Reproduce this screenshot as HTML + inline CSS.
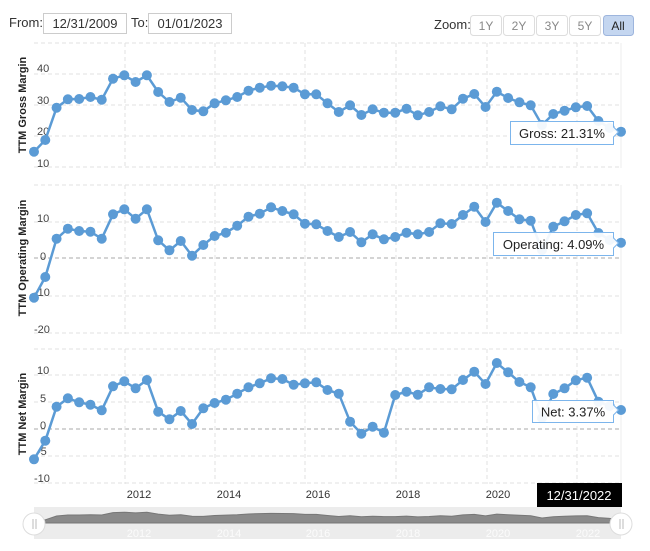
<!DOCTYPE html>
<html><head><meta charset="utf-8"><style>
body{margin:0;background:#fff;font-family:"Liberation Sans",sans-serif;}
svg{display:block}
</style></head><body>
<svg id="s" width="650" height="551" viewBox="0 0 650 551" xmlns="http://www.w3.org/2000/svg" font-family="Liberation Sans, sans-serif">
<rect width="650" height="551" fill="#fff"/>
<text x="9" y="27" font-size="13" fill="#333">From:</text>
<rect x="43.5" y="13.5" width="83" height="20" fill="#fff" stroke="#ccc"/>
<text x="85" y="28" font-size="13" fill="#333" text-anchor="middle">12/31/2009</text>
<text x="131" y="27" font-size="13" fill="#333">To:</text>
<rect x="148.5" y="13.5" width="83" height="20" fill="#fff" stroke="#ccc"/>
<text x="190" y="28" font-size="13" fill="#333" text-anchor="middle">01/01/2023</text>
<text x="434" y="29" font-size="13" fill="#333">Zoom:</text>
<g font-size="12" fill="#888" text-anchor="middle">
<rect x="470.5" y="15.5" width="31" height="20" rx="3" fill="#fff" stroke="#ddd"/><text x="486" y="30">1Y</text>
<rect x="503.5" y="15.5" width="31" height="20" rx="3" fill="#fff" stroke="#ddd"/><text x="519" y="30">2Y</text>
<rect x="536.5" y="15.5" width="31" height="20" rx="3" fill="#fff" stroke="#ddd"/><text x="552" y="30">3Y</text>
<rect x="569.5" y="15.5" width="31" height="20" rx="3" fill="#fff" stroke="#ddd"/><text x="585" y="30">5Y</text>
<rect x="603.5" y="15.5" width="30" height="20" rx="3" fill="#c4d6f0" stroke="#9db5dd"/><text x="618" y="30" fill="#222">All</text>
</g>
<g id="grid" stroke="#e0e0e0" stroke-dasharray="4,3" stroke-width="1"></g>
<g font-size="11" fill="#444">
<text x="37" y="72">40</text><text x="37" y="104">30</text><text x="37" y="135">20</text><text x="37" y="167">10</text>
<text x="37" y="222">10</text><text x="40" y="260">0</text><text x="34" y="296">-10</text><text x="34" y="333">-20</text>
<text x="37" y="374">10</text><text x="40" y="402">5</text><text x="40" y="429">0</text><text x="37" y="455">-5</text><text x="34" y="482">-10</text>
</g>
<g font-size="11" font-weight="bold" fill="#222" text-anchor="middle">
<text transform="translate(26,105) rotate(-90)">TTM Gross Margin</text>
<text transform="translate(26,258) rotate(-90)">TTM Operating Margin</text>
<text transform="translate(26,414) rotate(-90)">TTM Net Margin</text>
</g>
<g id="series"></g>
<g font-size="11" fill="#333" text-anchor="middle">
<text x="139" y="498">2012</text><text x="229" y="498">2014</text><text x="318" y="498">2016</text><text x="408" y="498">2018</text><text x="498" y="498">2020</text>
</g>
<rect x="537" y="483" width="85" height="24" fill="#000"/>
<text x="579" y="500" font-size="13" fill="#fff" text-anchor="middle">12/31/2022</text>
<rect x="34" y="507" width="587" height="32" fill="#ececec"/>
<path id="nav" fill="#8a8a8a" stroke="#777"/>
<g font-size="11" fill="#fff" text-anchor="middle" opacity="0.8">
<text x="139" y="537">2012</text><text x="229" y="537">2014</text><text x="318" y="537">2016</text><text x="408" y="537">2018</text><text x="498" y="537">2020</text><text x="588" y="537">2022</text>
</g>
<circle cx="34" cy="524" r="11" fill="#fff" stroke="#ddd"/><line x1="33" y1="519" x2="33" y2="529" stroke="#bbb"/><line x1="36" y1="519" x2="36" y2="529" stroke="#bbb"/>
<circle cx="621" cy="524" r="11" fill="#fff" stroke="#ddd"/><line x1="620" y1="519" x2="620" y2="529" stroke="#bbb"/><line x1="623" y1="519" x2="623" y2="529" stroke="#bbb"/>
<g id="tips"></g>
</svg>
<script>
var NS="http://www.w3.org/2000/svg";
function el(p,t,a){var e=document.createElementNS(NS,t);for(var k in a)e.setAttribute(k,a[k]);p.appendChild(e);return e;}
var g=document.getElementById('grid');
[[43,74,105,136,167],[185,222,296,333],[349,375,402,456,483]].forEach(function(r){r.forEach(function(y){el(g,'line',{x1:34,x2:621,y1:y,y2:y});});});
[[258],[429]].forEach(function(r){el(g,'line',{x1:34,x2:621,y1:r[0],y2:r[0],stroke:'#aaa'});});
[125,215,305,396,487,577].forEach(function(x){[[43,168],[185,334],[349,484]].forEach(function(s){el(g,'line',{x1:x,x2:x,y1:s[0],y2:s[1]});});});
[[43,168],[185,334],[349,484]].forEach(function(s){el(g,'line',{x1:621,x2:621,y1:s[0],y2:s[1],'stroke-dasharray':'none',stroke:'#eee'});});
var G=[151.7,140,107.7,99.3,99,97,99.7,78.7,75.3,82,75.3,92,102,97.7,110,111.3,103.3,100.3,97,90.7,87.7,85.7,86.3,87.7,94.3,94.3,103.3,
112,105.3,115,109.3,112.7,112.7,108.7,115.3,112,106.3,109.3,98.7,94,107,91.7,98,102.3,105.3,125,114,110.7,107.3,106,121,128,131.7];
var O=[297.7,277,238.7,228.7,231,231.7,238.7,214.3,209.3,218.7,209.3,240.3,250.3,241,255.7,245,236,232.7,225.7,216.7,213.7,207.3,211,214.3,223.7,224.3,231,
237,232,242.3,234.3,239.3,237,232.7,234.3,232,223.3,224,215,206.7,222,202.7,211,219.3,220.7,250,226.7,221.3,215,213.3,233,240,242.7];
var N=[459.3,440.7,406.7,398.3,402.3,404.7,410.3,386.3,381.3,388.3,380,411.7,419.3,411,424,408.3,403,399.7,393.7,387.3,383.3,378.3,379,384.7,383.3,382.3,390,
393.7,421.7,433.7,426.7,432.7,395,391.7,394.7,387.3,389,389.3,380,371.7,384,363,372.3,382,387.3,418,394,388.3,380.3,377.7,401.7,406,410];
var S=document.getElementById('series');
function X(i){return 34+i*(587/52);}
[G,O,N].forEach(function(d){var pts=d.map(function(y,i){return X(i).toFixed(1)+','+y;}).join(' ');
el(S,'polyline',{points:pts,fill:'none',stroke:'#5b9bd5','stroke-width':2.5});
d.forEach(function(y,i){el(S,'circle',{cx:X(i),cy:y,r:5,fill:'#5b9bd5'});});});
var p='M34,523 ';G.forEach(function(y,i){p+='L'+X(i).toFixed(1)+','+(512+(y-74)/93*11).toFixed(1)+' ';});p+='L621,523 Z';
document.getElementById('nav').setAttribute('d',p);
var T=document.getElementById('tips');
function tip(x1,y1,x2,y2,txt,py){
el(T,'path',{d:'M'+x1+','+y1+' H'+x2+' V'+(py-5)+' L'+(x2+5)+','+py+' L'+x2+','+(py+5)+' V'+y2+' H'+x1+' Z',fill:'#fff','fill-opacity':0.92,stroke:'#7cb5ec'});
var t=el(T,'text',{x:(x1+x2)/2,y:(y1+y2)/2+5,'font-size':13,fill:'#222','text-anchor':'middle'});t.textContent=txt;}
tip(510.5,121.5,613.5,144.5,'Gross: 21.31%',132);
tip(493.5,232.5,613.5,255.5,'Operating: 4.09%',243);
tip(532.5,400.5,613.5,422.5,'Net: 3.37%',410);
</script>
</body></html>
